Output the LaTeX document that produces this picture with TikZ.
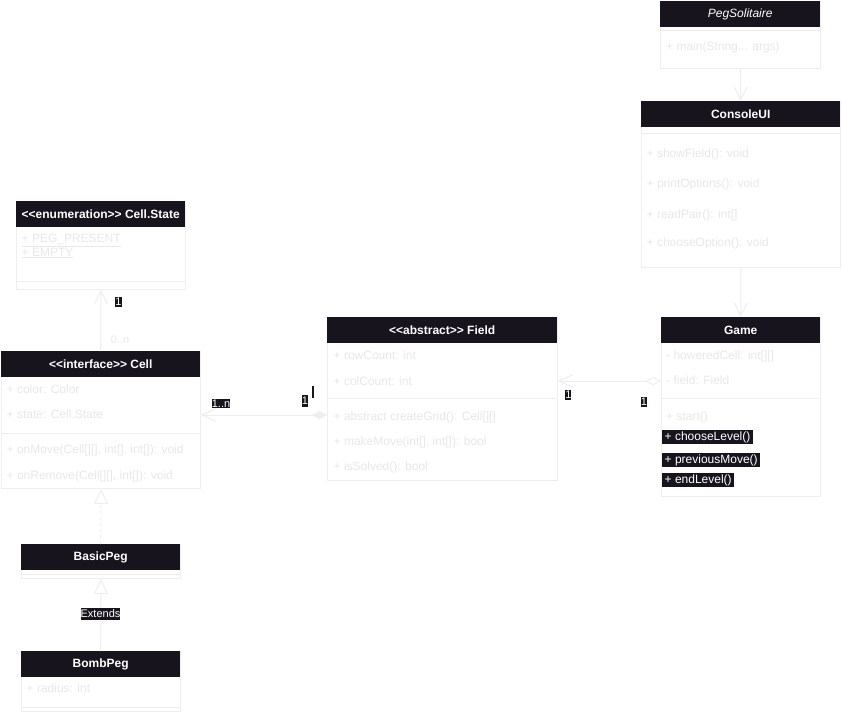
\documentclass[tikz,border=0pt]{standalone}
\usepackage{fontspec}
\setmainfont{Liberation Sans}
\usetikzlibrary{arrows.meta}
\definecolor{headc}{HTML}{18141D}
\definecolor{ink}{HTML}{EEEEEE}
\definecolor{txt}{HTML}{E8E8E8}
\begin{document}
\begin{tikzpicture}[x=1pt,y=-1pt,
  font=\fontsize{12}{14}\selectfont,
  box/.style={draw=ink, line width=1pt, anchor=north west, inner sep=0pt},
  head/.style={fill=headc, text=white, anchor=north west, inner sep=0pt,
    minimum height=25.5, font=\fontsize{12}{14}\selectfont\bfseries},
  item/.style={anchor=west, inner sep=0pt, text=txt, text height=8.6, text depth=2.4},
  hot/.style={anchor=west, fill=headc, text=white, inner xsep=2.5pt, inner ysep=1.5pt,
    text height=8.6, text depth=2.4},
  sep/.style={draw=ink, line width=1pt},
  lab/.style={fill=headc, text=white, inner sep=0pt, minimum height=10,
    font=\fontsize{11}{11}\selectfont},
  plainlab/.style={text=txt, inner sep=0pt, font=\fontsize{11}{11}\selectfont},
  link/.style={draw=ink, line width=1pt},
  openarrow/.style={-{Straight Barb[length=13pt,width=13pt]}},
  realize/.style={dashed, dash pattern=on 3pt off 3pt, -{Triangle[open,length=15pt,width=14pt,fill=white]}},
  inherit/.style={-{Triangle[open,length=15pt,width=14pt,fill=white]}},
]
\fill[white] (0,0) rectangle (842,712);
\useasboundingbox (0,0) rectangle (842,712);

% ---- PegSolitaire
\node[box, minimum width=160, minimum height=67] (pegsol) at (660,1) {};
\node[head, minimum width=160, font=\fontsize{12}{14}\selectfont\itshape] (pegsolh) at (660,1) {PegSolitaire};
\draw[sep] (pegsol.west |- 0,30) -- (pegsol.east |- 0,30);
\node[item] (pmain) at (666,47) {+ main(String... args)};

% ---- ConsoleUI
\node[box, minimum width=199, minimum height=166] (console) at (641,101) {};
\node[head, minimum width=199] (consoleh) at (641,101) {ConsoleUI};
\draw[sep] (console.west |- 0,133) -- (console.east |- 0,133);
\node[item] (cshow) at (646.5,154) {+ showField(): void};
\node[item] (cprint) at (646.5,184) {+ printOptions(): void};
\node[item] (cread) at (646.5,215) {+ readPair(): int[]};
\node[item] (cchoose) at (646.5,243) {+ chooseOption(): void};

% ---- Game
\node[box, minimum width=159, minimum height=179] (game) at (661,317) {};
\node[head, minimum width=159] (gameh) at (661,317) {Game};
\node[item] (ghover) at (666,356) {- howeredCell: int[][]};
\node[item] (gfield) at (666,381) {- field: Field};
\draw[sep] (game.west |- 0,398) -- (game.east |- 0,398);
\node[item] (gstart) at (666,417) {+ start()};
\node[hot] (gchoose) at (662,437) {+ chooseLevel()};
\node[hot] (gprev) at (662,460) {+ previousMove()};
\node[hot] (gend) at (662,480) {+ endLevel()};

% ---- Field
\node[box, minimum width=230, minimum height=163] (field) at (327,317) {};
\node[head, minimum width=230] (fieldh) at (327,317) {<{}<abstract>{}> Field};
\node[item] (frow) at (333.5,356) {+ rowCount: int};
\node[item] (fcol) at (333.5,382) {+ colCount: int};
\draw[sep] (field.west |- 0,398) -- (field.east |- 0,398);
\node[item] (fgrid) at (333.5,417) {+ abstract createGrid(): Cell[][]};
\node[item] (fmove) at (333.5,442) {+ makeMove(int[], int[]): bool};
\node[item] (fsolved) at (333.5,467) {+ isSolved(): bool};

% ---- Cell.State
\node[box, minimum width=169, minimum height=88] (state) at (16,201) {};
\node[head, minimum width=169] (stateh) at (16,201) {<{}<enumeration>{}> Cell.State};
\node[item] (speg) at (21.5,239) {\underline{+ PEG\_PRESENT}};
\node[item] (sempty) at (21.5,253) {\underline{+ EMPTY}};
\draw[sep] (state.west |- 0,281) -- (state.east |- 0,281);

% ---- Cell
\node[box, minimum width=199, minimum height=137] (cell) at (1,351) {};
\node[head, minimum width=199] (cellh) at (1,351) {<{}<interface>{}> Cell};
\node[item] (ccolor) at (6.5,390) {+ color: Color};
\node[item] (cstate) at (6.5,415) {+ state: Cell.State};
\draw[sep] (cell.west |- 0,433) -- (cell.east |- 0,433);
\node[item] (conmove) at (6.5,450) {+ onMove(Cell[][], int[], int[]): void};
\node[item] (conremove) at (6.5,476) {+ onRemove(Cell[][], int[]): void};

% ---- BasicPeg
\node[box, minimum width=159, minimum height=34] (basic) at (21,544) {};
\node[head, minimum width=159] (basich) at (21,544) {BasicPeg};
\draw[sep] (basic.west |- 0,574) -- (basic.east |- 0,574);

% ---- BombPeg
\node[box, minimum width=159, minimum height=60] (bomb) at (21,651) {};
\node[head, minimum width=159] (bombh) at (21,651) {BombPeg};
\node[item] (bradius) at (26.5,689) {+ radius: int};
\draw[sep] (bomb.west |- 0,707) -- (bomb.east |- 0,707);

% ---- connectors
\draw[link, openarrow] (pegsol.south) -- (consoleh.north);
\draw[link, openarrow] (console.south) -- (gameh.north);
\draw[link, openarrow] (cellh.north) -- (state.south);
\draw[link, {Diamond[length=15pt,width=8pt,fill=ink]}-{Straight Barb[length=14pt,width=13pt]}]
  (field.west |- cstate) -- (cell.east |- cstate);
\draw[link, {Diamond[open,length=16pt,width=8pt,fill=white]}-{Straight Barb[length=14pt,width=13pt]}]
  (game.west |- gfield) -- (field.east |- gfield);
\draw[link, realize] (basich.north) -- (cell.south);
\draw[link, inherit] (bombh.north) -- (basic.south);

% ---- connector labels
\node[lab] (l1) at (118.5,302) {1};
\node[plainlab] (l0n) at (120,340) {0..n};
\node[lab, minimum height=9.5] (l1n) at (221,403.5) {1..n};
\node[lab, minimum height=12] (l1b) at (305,401) {1};
\node[fill=headc, inner sep=0pt, minimum width=2, minimum height=12] (lbar) at (313,392) {};
\node[lab] (l1c) at (568.3,394.5) {1};
\node[lab] (l1d) at (644,402) {1};
\node[lab, minimum height=12] (lext) at (100.5,614) {Extends};
\end{tikzpicture}
\end{document}
